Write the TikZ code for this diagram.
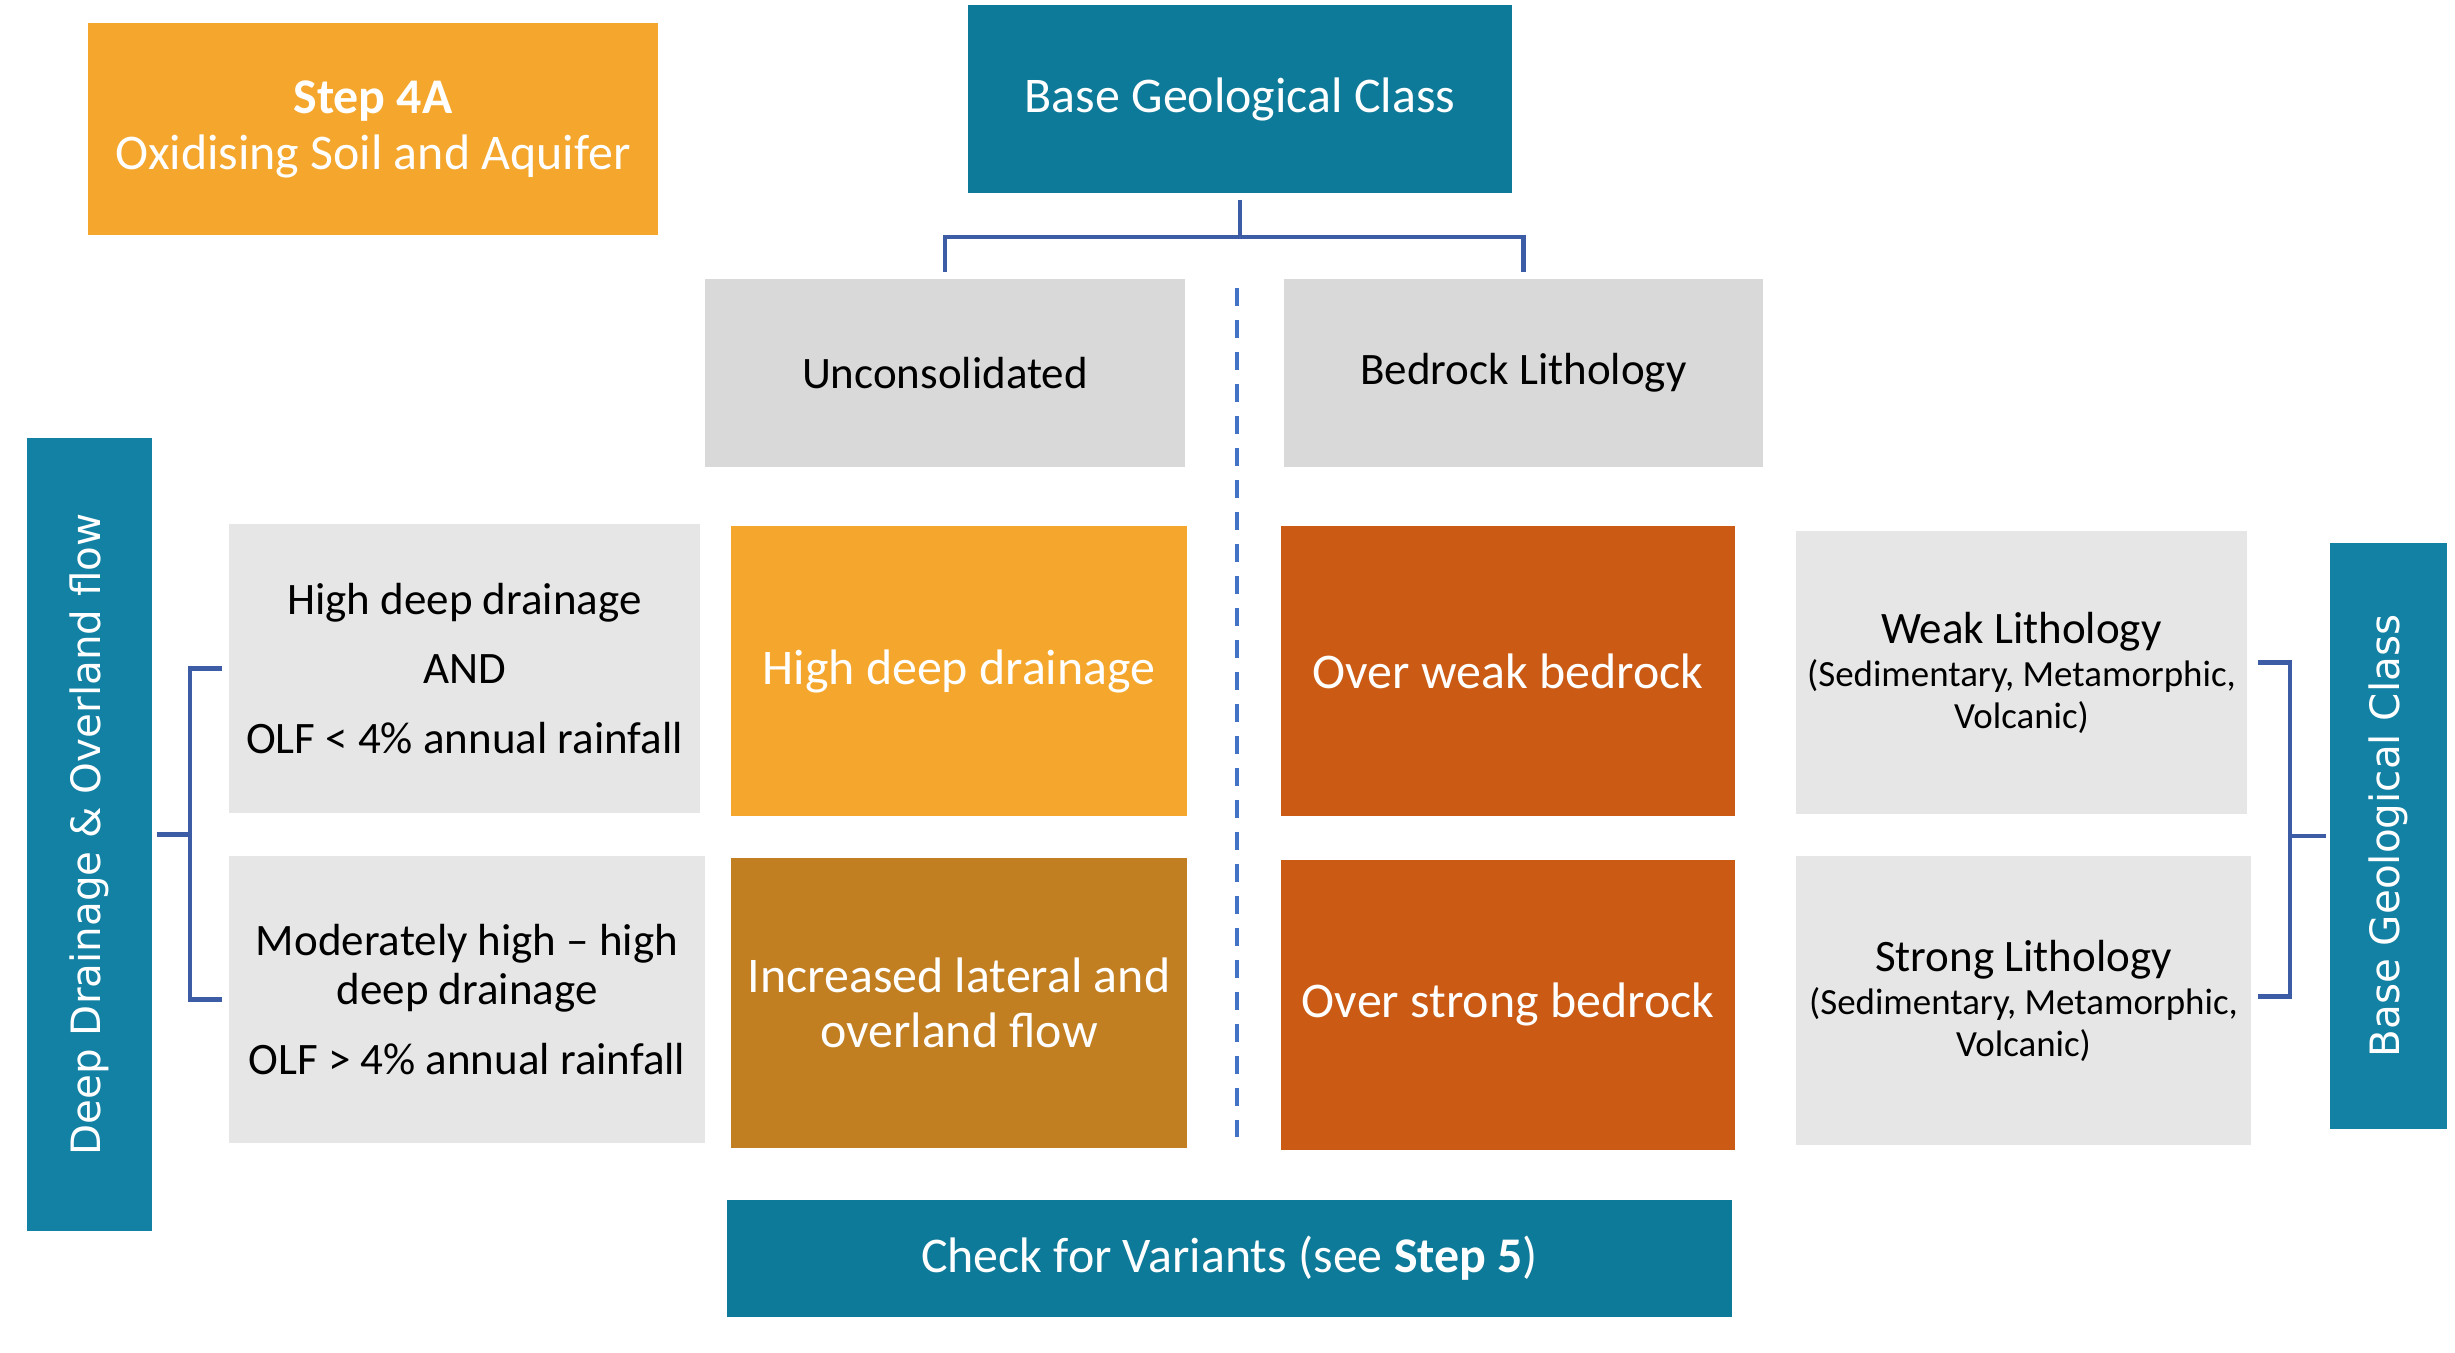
\documentclass[tikz,border=0pt]{standalone}
\usepackage{fontspec}
\setmainfont{Carlito}
\newfontfamily\sidefont{DejaVu Sans}
\usepackage{tikz}
\usetikzlibrary{positioning}

\definecolor{tealdark}{HTML}{0E7A99}
\definecolor{teallight}{HTML}{1381A3}
\definecolor{amber}{HTML}{F4A72C}
\definecolor{ochre}{HTML}{C17F22}
\definecolor{rust}{HTML}{CA5A14}
\definecolor{greyhead}{HTML}{D9D9D9}
\definecolor{greycell}{HTML}{E6E6E6}
\definecolor{linkblue}{HTML}{3C5DA5}
\definecolor{sepblue}{HTML}{4472C4}

\begin{document}
\begin{tikzpicture}[auto,
    box/.style={rectangle, inner sep=0pt, align=center, minimum width=4.56cm, minimum height=2.9cm},
    hdr/.style={box, fill=tealdark, text=white, font=\fontsize{14.2}{15.9}\selectfont},
    colour/.style={box, text=white, font=\fontsize{14.2}{15.6}\selectfont},
    cond/.style={box, fill=greycell, font=\fontsize{12.8}{14.2}\selectfont},
    lith/.style={box, fill=greycell, font=\fontsize{10.5}{11.7}\selectfont},
    head/.style={box, fill=greyhead, minimum height=1.88cm, font=\fontsize{12.8}{14.2}\selectfont},
    side/.style={rectangle, inner sep=0pt, fill=teallight, text=white, font=\sidefont\fontsize{11.5}{13}\selectfont},
    link/.style={draw=linkblue, line width=1.2pt},
    sep/.style={draw=sepblue, line width=1pt, dash pattern=on 5.1pt off 4pt}]
    \useasboundingbox (0,0) rectangle (24.55,-13.53);

    \node [hdr, fill=amber, minimum width=5.70cm, minimum height=2.12cm] (step) at (3.73,-1.29) {\textbf{Step 4A}\\Oxidising Soil and Aquifer};
    \node [hdr, minimum width=5.44cm, minimum height=1.88cm] (base) at (12.40,-0.99) {Base Geological Class};
    \node [head, minimum width=4.80cm] (uncons) at (9.45,-3.73) {Unconsolidated};
    \node [head, minimum width=4.79cm, right of=uncons, node distance=5.785cm] (bedrock) {Bedrock Lithology};

    \node [colour, fill=amber] (highdd) at (9.59,-6.71) {High deep drainage};
    \node [colour, fill=ochre, below of=highdd, node distance=3.32cm] (lateral) {Increased lateral and\\overland flow};
    \node [colour, fill=rust, minimum width=4.54cm] (weakbed) at (15.08,-6.71) {Over weak bedrock};
    \node [colour, fill=rust, minimum width=4.54cm, below of=weakbed, node distance=3.335cm] (strongbed) {Over strong bedrock};

    \node [cond, minimum width=4.71cm, minimum height=2.89cm] (cond1) at (4.645,-6.685) {High deep drainage\\[5.7pt]AND\\[5.7pt]OLF < 4\% annual rainfall};
    \node [cond, minimum width=4.76cm, minimum height=2.87cm] (cond2) at (4.67,-9.995) {Moderately high -- high\\deep drainage\\[5.7pt]OLF > 4\% annual rainfall};
    \node [lith, minimum width=4.51cm, minimum height=2.83cm] (weaklith) at (20.215,-6.725) {\fontsize{12.8}{14}\selectfont Weak Lithology\\[0.8pt](Sedimentary, Metamorphic,\\Volcanic)};
    \node [lith, minimum width=4.55cm, minimum height=2.89cm] (stronglith) at (20.235,-10.005) {\fontsize{12.8}{14}\selectfont Strong Lithology\\[0.8pt](Sedimentary, Metamorphic,\\Volcanic)};

    \node [side, minimum width=1.25cm, minimum height=7.93cm] (drain) at (0.895,-8.345) {\rotatebox{90}{Deep Drainage \& Overland flow}};
    \node [side, minimum width=1.17cm, minimum height=5.86cm] (geoclass) at (23.885,-8.36) {\rotatebox{90}{Base Geological Class}};
    \node [hdr, minimum width=10.05cm, minimum height=1.17cm] (check) at (12.295,-12.58) {Check for Variants (see \textbf{Step 5})};

    \coordinate (septop) at (12.37,-2.88);
    \coordinate (sepbot) at (12.37,-11.46);
    \draw [sep] (septop) -- (sepbot);

    \draw [link] ([yshift=-0.06cm]base.south) -- ++(0,-0.37) coordinate (fork) -| ([yshift=0.06cm]uncons.north);
    \draw [link] (fork) -| ([yshift=0.06cm]bedrock.north);
    \draw [link] ([xshift=0.04cm]drain.east) -- ++(0.33,0) coordinate (lfork) |- ([xshift=-0.06cm]cond1.west);
    \draw [link] (lfork) |- ([xshift=-0.06cm]cond2.west);
    \draw [link] ([xshift=-0.03cm]geoclass.west) -- ++(-0.36,0) coordinate (rfork) |- ([xshift=0.1cm,yshift=0.1cm]weaklith.east);
    \draw [link] (rfork) |- ([xshift=0.06cm,yshift=0.04cm]stronglith.east);
\end{tikzpicture}
\end{document}
